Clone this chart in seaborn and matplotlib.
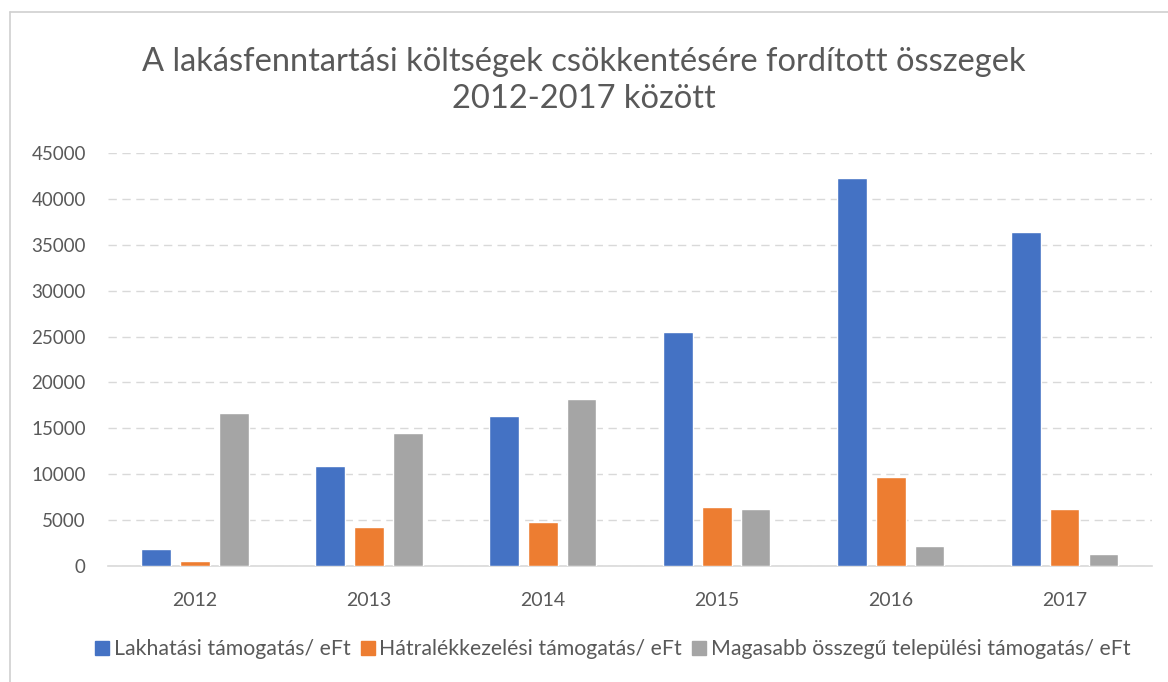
import matplotlib.pyplot as plt
import matplotlib.lines as mlines
import pandas as pd
import seaborn as sns

years = ["2012", "2013", "2014", "2015", "2016", "2017"]
lakhatasi = [1900, 10900, 16300, 25450, 42300, 36400]
hatralek = [600, 4300, 4750, 6450, 9650, 6200]
magasabb = [16650, 14550, 18200, 6200, 2200, 1300]

series_names = [
    "Lakhatási támogatás/ eFt",
    "Hátralékkezelési támogatás/ eFt",
    "Magasabb összegű települési támogatás/ eFt",
]
colors = ["#4472C4", "#ED7D31", "#A5A5A5"]
title = "A lakásfenntartási költségek csökkentésére fordított összegek\n2012-2017 között"

df = pd.DataFrame({
    "year": years * 3,
    "value": lakhatasi + hatralek + magasabb,
    "series": [series_names[0]] * 6 + [series_names[1]] * 6 + [series_names[2]] * 6,
})

sns.set_style("white")
plt.rcParams["font.family"] = ["Lato", "DejaVu Sans"]
text_color = "#595959"

fig = plt.figure(figsize=(11.68, 6.82), dpi=100)
ax = fig.add_axes([0.0925, 0.170, 0.8935, 0.6056])

sns.barplot(data=df, x="year", y="value", hue="series", palette=colors,
            width=0.67, gap=0.24, saturation=1, ax=ax, legend=False, zorder=3)

ax.set_ylim(0, 45000)
ax.set_xlim(-0.5, 5.5)
ax.set_yticks(range(0, 45001, 5000))
ax.yaxis.grid(True, linestyle=(0, (6, 4)), color="#D9D9D9", linewidth=1, zorder=0)
ax.set_xlabel("")
ax.set_ylabel("")
for s in ["top", "right", "left"]:
    ax.spines[s].set_visible(False)
ax.spines["bottom"].set_color("#D9D9D9")
ax.spines["bottom"].set_linewidth(1.2)
ax.tick_params(axis="both", length=0, labelsize=14, labelcolor=text_color)
ax.tick_params(axis="y", labelsize=13.5, pad=16)
ax.tick_params(axis="x", pad=19)

fig.text(0.5, 0.882, title, ha="center", va="center", fontsize=23.5,
         color=text_color, linespacing=1.3)

handles = [mlines.Line2D([], [], marker="s", linestyle="", markersize=10,
                         color=c) for c in colors]
fig.legend(handles, series_names, loc="center", bbox_to_anchor=(0.523, 0.048),
           ncol=3, frameon=False, fontsize=15.3, labelcolor=text_color,
           handletextpad=0.05, columnspacing=0.3, handlelength=1.0)

# frame lines of the original screenshot
fig.add_artist(mlines.Line2D([10 / 1168, 10 / 1168], [0, 1 - 12 / 682],
                             color="#D0D0D0", linewidth=1.2))
fig.add_artist(mlines.Line2D([10 / 1168, 1], [1 - 12 / 682, 1 - 12 / 682],
                             color="#D0D0D0", linewidth=1.2))

fig.savefig("out.png", dpi=100)
